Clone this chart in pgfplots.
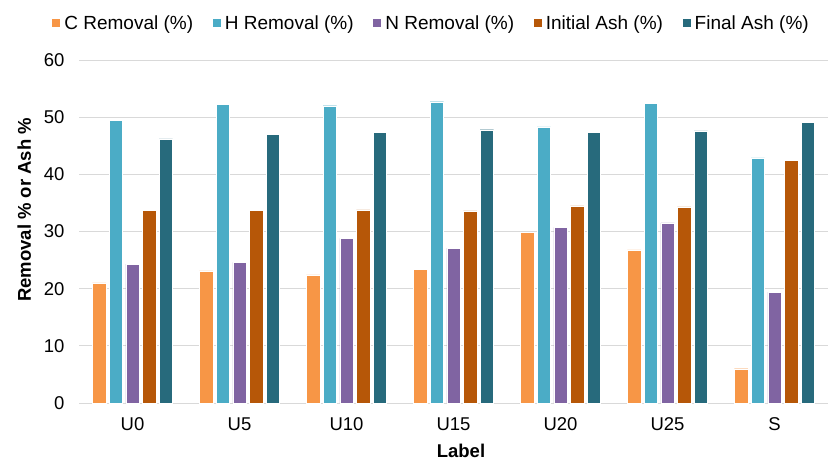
\documentclass[border=0pt]{standalone}
\usepackage{fontspec}
\setmainfont{Liberation Sans}
\usepackage{pgfplots}
\pgfplotsset{compat=1.18}
\usepackage{pgfplotstable}

\definecolor{cC}{HTML}{F79646}
\definecolor{cH}{HTML}{4BACC6}
\definecolor{cN}{HTML}{8064A2}
\definecolor{cIni}{HTML}{B65708}
\definecolor{cFin}{HTML}{276A7C}
\definecolor{gridgray}{HTML}{D9D9D9}

% x = sample index (U0 ... U25, S)
\pgfplotstableread{
x  C     H     N     Ini   Fin
0  21.0  49.5  24.3  33.7  46.2
1  23.1  52.3  24.6  33.7  47.0
2  22.4  52.0  28.8  33.8  47.3
3  23.4  52.7  27.1  33.6  47.8
4  29.9  48.3  30.7  34.5  47.3
5  26.8  52.4  31.5  34.3  47.6
6   6.0  42.9  19.4  42.5  49.1
}\datatable

\begin{document}
\begin{tikzpicture}
\path[use as bounding box] (-79bp,-58bp) rectangle (749bp,403bp);
\begin{axis}[
  scale only axis, width=749bp, height=343bp,
  font=\fontsize{18.5bp}{22bp}\selectfont,
  /pgf/number format/assume math mode=true,
  ybar=3.2bp, bar width=13.5bp,
  xmin=-0.5, xmax=6.5, ymin=0, ymax=60,
  xtick=data, xticklabels={U0,U5,U10,U15,U20,U25,S},
  ytick={0,10,...,60},
  ymajorgrids, grid style={draw=gridgray, line width=0.9bp},
  axis x line*=bottom, axis y line*=left,
  x axis line style={draw=gridgray, line width=0.9bp, -},
  y axis line style={draw=none},
  major tick length=0pt, tick style={draw=none},
  yticklabel style={xshift=-11bp},
  xticklabel style={yshift=-11bp},
  xlabel={\bfseries Label},
  xlabel style={at={(axis description cs:0.51,0)}, anchor=center, yshift=-48bp},
  ylabel={\bfseries Removal \% or Ash \%},
  ylabel style={at={(axis description cs:-0.073,0.563)}, anchor=center},
  legend columns=5,
  legend style={at={(rel axis cs:0,1)}, anchor=west, xshift=-27bp, yshift=37bp,
    draw=none, fill=none, inner sep=0pt,
    font=\fontsize{19bp}{22bp}\selectfont,
    /tikz/every even column/.append style={column sep=17.5bp}},
  legend image code/.code={\path[#1, draw=none] (0bp,-4bp) rectangle (8bp,4bp); \path (10bp,0bp);},
]
\addplot[fill=cC,   draw=white, line width=0.4bp] table[x=x, y=C]   {\datatable};
\addplot[fill=cH,   draw=white, line width=0.4bp] table[x=x, y=H]   {\datatable};
\addplot[fill=cN,   draw=white, line width=0.4bp] table[x=x, y=N]   {\datatable};
\addplot[fill=cIni, draw=white, line width=0.4bp] table[x=x, y=Ini] {\datatable};
\addplot[fill=cFin, draw=white, line width=0.4bp] table[x=x, y=Fin] {\datatable};
\legend{C Removal (\%), H Removal (\%), N Removal (\%), Initial Ash (\%), Final Ash (\%)}
\end{axis}
\end{tikzpicture}
\end{document}
